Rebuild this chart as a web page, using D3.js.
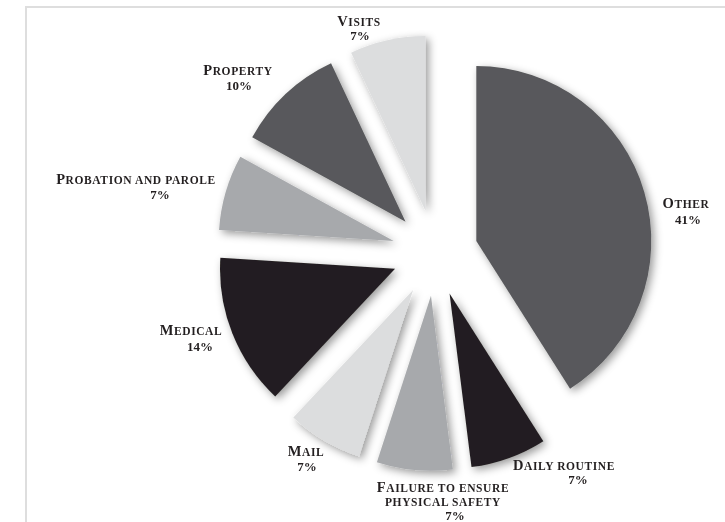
<!DOCTYPE html>
<html>
<head>
<meta charset="utf-8">
<script src="https://cdn.jsdelivr.net/npm/d3@7"></script>
<style>
  body { margin: 0; background: #fff; }
  svg text { font-family: "Liberation Serif", "DejaVu Serif", serif; font-weight: bold; fill: #231f20; }
</style>
</head>
<body>
<svg id="chart" width="725" height="522"></svg>
<script>
// Complaint categories, clockwise from twelve o'clock
const categories = ["Other", "Daily routine", "Failure to ensure physical safety", "Mail",
                    "Medical", "Probation and parole", "Property", "Visits"];
// Share of complaints, percent
const shares = [41, 7, 7, 7, 14, 7, 10, 7];
// Label text, one entry per line
const nameLines = [["Other"], ["Daily routine"], ["Failure to ensure", "physical safety"], ["Mail"],
                   ["Medical"], ["Probation and parole"], ["Property"], ["Visits"]];

// Slice fills
const fills = ["#58595b", "#231f20", "#a7a9ac", "#dcddde", "#231f20", "#a7a9ac", "#58595b", "#dcddde"];

// Label placement: name block centre / first-line y, and value line position
const labelPos = [
  { x: 686, y: 203, vx: 688, vy: 219 },
  { x: 564, y: 465, vx: 578, vy: 479 },
  { x: 443, y: 487, vx: 455, vy: 515 },
  { x: 306, y: 451, vx: 307, vy: 466 },
  { x: 191, y: 330, vx: 200, vy: 346 },
  { x: 136, y: 179, vx: 160, vy: 194 },
  { x: 238, y: 70,  vx: 239, vy: 85 },
  { x: 359, y: 21,  vx: 360, vy: 35 }
];

const W = 725, H = 522;
const cx = 435, cy = 253, R = 175, explode = 43, lineGap = 14;
const capSize = 14.5, smallCapSize = 11.5, valueSize = 13;

const svg = d3.select("#chart");

// Drop shadow under the slices
const defs = svg.append("defs");
const f = defs.append("filter").attr("id", "shadow")
  .attr("x", "-20%").attr("y", "-20%").attr("width", "140%").attr("height", "140%");
f.append("feDropShadow").attr("dx", 3).attr("dy", 3).attr("stdDeviation", 4)
  .attr("flood-color", "#000").attr("flood-opacity", 0.4);

// Frame
svg.append("path")
  .attr("d", `M26,${H} V7 H${W}`)
  .attr("fill", "none").attr("stroke", "#dedede").attr("stroke-width", 2);

const pie = d3.pie().sort(null).value(d => d)(shares);
const arc = d3.arc().innerRadius(0).outerRadius(R);

const slices = svg.append("g")
  .attr("transform", `translate(${cx},${cy})`)
  .attr("filter", "url(#shadow)");

slices.selectAll("path")
  .data(pie)
  .join("path")
  .attr("d", arc)
  .attr("fill", (d, i) => fills[i])
  .attr("transform", d => {
    const mid = (d.startAngle + d.endAngle) / 2;
    return `translate(${explode * Math.sin(mid)},${-explode * Math.cos(mid)})`;
  });

// Small-caps text: capitals at full size, lower case set as reduced capitals
function smallCaps(textSel, str) {
  const runs = [];
  for (const ch of str) {
    const big = ch !== " " && ch === ch.toUpperCase();
    if (runs.length && runs[runs.length - 1].big === big) runs[runs.length - 1].s += ch;
    else runs.push({ big, s: ch });
  }
  runs.forEach(r => {
    textSel.append("tspan")
      .style("font-size", (r.big ? capSize : smallCapSize) + "px")
      .text(r.s.toUpperCase());
  });
}

// Labels
const labels = svg.append("g");
categories.forEach((c, i) => {
  const p = labelPos[i];
  nameLines[i].forEach((line, k) => {
    const t = labels.append("text")
      .attr("x", p.x).attr("y", p.y + k * lineGap + 4.5)
      .attr("text-anchor", "middle")
      .style("letter-spacing", "0.6px");
    smallCaps(t, line);
  });
  labels.append("text")
    .attr("x", p.vx).attr("y", p.vy + 4.5)
    .attr("text-anchor", "middle")
    .style("font-size", valueSize + "px")
    .text(d3.format("d")(shares[i]) + "%");
});
</script>
</body>
</html>
